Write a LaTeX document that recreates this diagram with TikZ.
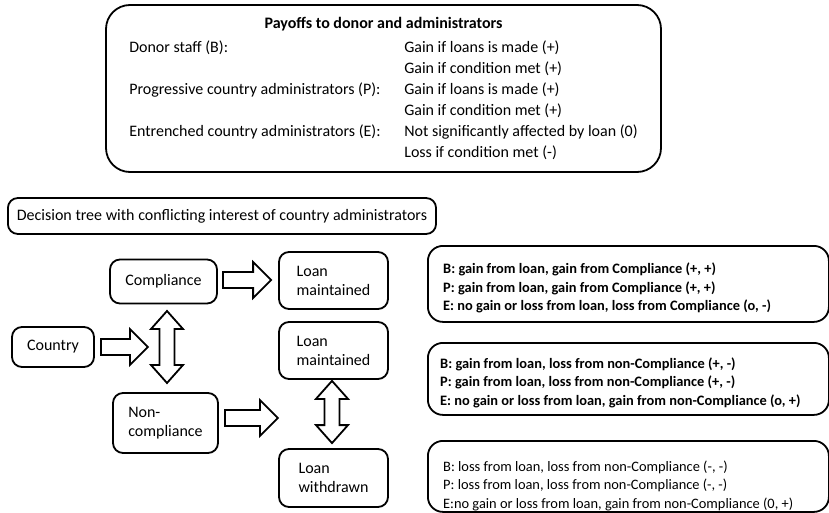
\documentclass[tikz,border=0pt]{standalone}
\usepackage{fontspec}
\setmainfont{Carlito}
\usetikzlibrary{calc}

% horizontal block arrow pointing right, from #1 to #2
\newcommand\rblock[2]{%
  \draw[blk] let \p1=(#1), \p2=(#2) in
    (\x1,\y1+8pt) -- (\x2-18pt,\y1+8pt) -- (\x2-18pt,\y1+18pt) -- (\x2,\y1)
    -- (\x2-18pt,\y1-18pt) -- (\x2-18pt,\y1-8pt) -- (\x1,\y1-8pt) -- cycle;}
% vertical double block arrow between #1 (top tip) and #2 (bottom tip)
\newcommand\vdblock[2]{%
  \draw[blk] let \p1=(#1), \p2=(#2) in
    (\x1,\y1) -- (\x1+16pt,\y1-18pt) -- (\x1+7.5pt,\y1-18pt) -- (\x1+7.5pt,\y2+18pt)
    -- (\x1+16pt,\y2+18pt) -- (\x1,\y2) -- (\x1-16pt,\y2+18pt) -- (\x1-7.5pt,\y2+18pt)
    -- (\x1-7.5pt,\y1-18pt) -- (\x1-16pt,\y1-18pt) -- cycle;}

\begin{document}
\begin{tikzpicture}[x=1pt,y=-1pt,
  box/.style={draw, line width=1.8pt, rounded corners=10pt, inner sep=0pt},
  blk/.style={draw, line width=1.8pt, fill=white, line join=miter},
  lbl/.style={font=\fontsize{16}{19}\selectfont},
  paybox/.style={box, rounded corners=15pt, anchor=north west, minimum width=401},
  paytext/.style={anchor=west, inner sep=0pt, align=left, font=\fontsize{14.4}{18.5}\selectfont},
]
\useasboundingbox (0,0) rectangle (829,513);

% payoff summary
\node[box, rounded corners=24pt, minimum width=555, minimum height=167] (payoffs) at (383.5,88.5)
  {\fontsize{16}{21}\selectfont
   \begin{tabular}{@{}p{275pt}@{}l@{}}
   \multicolumn{2}{@{}c@{}}{\textbf{Payoffs to donor and administrators}}\\[3pt]
   Donor staff (B): & Gain if loans is made (+)\\
                    & Gain if condition met (+)\\
   Progressive country administrators (P): & Gain if loans is made (+)\\
                    & Gain if condition met (+)\\
   Entrenched country administrators (E): & Not significantly affected by loan (0)\\
                    & Loss if condition met (-)
   \end{tabular}};

% caption box
\node[box, anchor=west, minimum height=36, inner xsep=9pt, lbl]
  (caption) at (7,216) {Decision tree with conflicting interest of country administrators};

% decision tree nodes
\node[box, lbl, minimum width=107, minimum height=44] (comp) at (163.5,281.5) {Compliance};
\node[box, lbl, minimum width=82, minimum height=40] (country) at (53,347) {Country};
\node[box, lbl, minimum width=105, minimum height=60, align=left] (noncomp) at (165.5,423) {Non-\\compliance};
\node[box, lbl, minimum width=109, minimum height=57, align=left] (loan1) at (333.5,280.5) {Loan\\maintained};
\node[box, lbl, minimum width=109, minimum height=57, align=left] (loan2) at (333.5,350.5) {Loan\\maintained};
\node[box, lbl, minimum width=109, minimum height=58, align=left] (loanw) at (333.5,478) {Loan\\withdrawn};

% payoff boxes on the right
\node[paybox, minimum height=76] (r1) at (427,245) {};
\node[paybox, minimum height=72] (r2) at (427,342) {};
\node[paybox, minimum height=71] (r3) at (427,440) {};
\node[paytext, font=\fontsize{14.4}{18.5}\selectfont\bfseries] (r1t) at ($(r1.west)+(16,4)$)
  {B: gain from loan, gain from Compliance (+, +)\\
   P: gain from loan, gain from Compliance (+, +)\\
   E: no gain or loss from loan, loss from Compliance (o, -)};
\node[paytext, font=\fontsize{14.4}{18.5}\selectfont\bfseries] (r2t) at ($(r2.west)+(13,3.5)$)
  {B: gain from loan, loss from non-Compliance (+, -)\\
   P: gain from loan, loss from non-Compliance (+, -)\\
   E: no gain or loss from loan, gain from non-Compliance (o, +)};
\node[paytext] (r3t) at ($(r3.west)+(16,9.5)$)
  {B: loss from loan, loss from non-Compliance (-, -)\\
   P: loss from loan, loss from non-Compliance (-, -)\\
   E:no gain or loss from loan, gain from non-Compliance (0, +)};

% arrow anchor points
\coordinate (forkT) at (167,311);
\coordinate (forkB) at (167,383);
\coordinate (a1s) at ($(comp.east)+(5,-1.5)$);
\coordinate (a1e) at ($(loan1.west)+(-7,0)$);
\coordinate (a2s) at ($(country.east)+(6,0)$);
\coordinate (a2e) at ($(country.east)+(53,0)$);
\coordinate (a3s) at ($(noncomp.east)+(6,-5)$);
\coordinate (a3e) at ($(noncomp.east)+(59,-5)$);
\coordinate (a4s) at ($(loan2.south)+(-1.5,1)$);
\coordinate (a4e) at ($(loanw.north)+(-1.5,-5)$);

% block arrows
\rblock{a1s}{a1e}
\rblock{a2s}{a2e}
\rblock{a3s}{a3e}
\vdblock{forkT}{forkB}
\vdblock{a4s}{a4e}
\end{tikzpicture}
\end{document}
